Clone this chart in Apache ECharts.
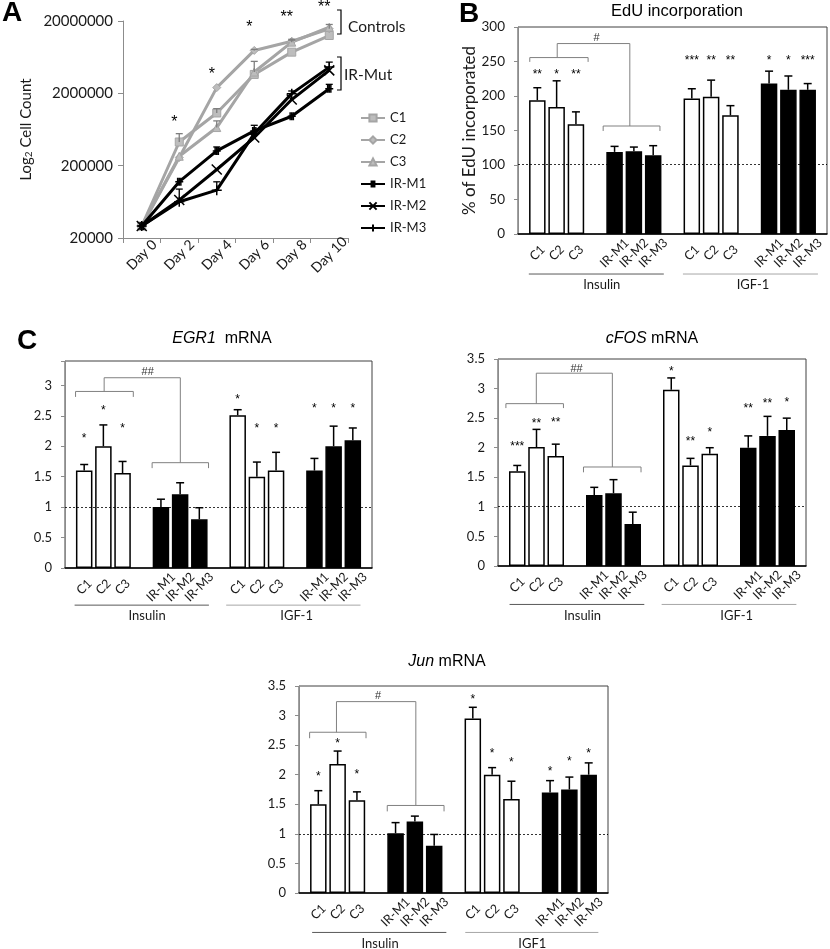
<!DOCTYPE html>
<html>
<head>
<meta charset="utf-8">
<script src="https://cdn.jsdelivr.net/npm/echarts@6.0.0/dist/echarts.min.js"></script>
<style>
html,body{margin:0;padding:0;background:#fff;}
#chart{width:830px;height:949px;}
</style>
</head>
<body>
<div id="chart"></div>
<script>
// ================= DATA =================
// Panel A: growth curves
const days = ['Day 0', 'Day 2', 'Day 4', 'Day 6', 'Day 8', 'Day 10'];
const lineNames = ['C1', 'C2', 'C3', 'IR-M1', 'IR-M2', 'IR-M3'];
const countC1 = [29300, 425000, 1070000, 3650000, 7420000, 12600000];
const countC2 = [29300, 259000, 2400000, 7840000, 10500000, 15600000];
const countC3 = [29300, 270000, 673000, 3940000, 10200000, 16400000];
const countM1 = [29300, 120000, 320000, 604000, 964000, 2320000];
const countM2 = [29300, 66900, 177000, 490000, 1640000, 4150000];
const countM3 = [29300, 63400, 91800, 556000, 1980000, 4610000];
const errC1 = [0, 129000, 158000, 0, 0, 0];
const errC2 = [0, 0, 0, 250000, 670000, 2300000];
const errC3 = [0, 0, 159000, 1590000, 670000, 0];
const errM1 = [0, 0, 43000, 119000, 0, 343000];
const errM2 = [0, 28000, 0, 0, 0, 0];
const errM3 = [0, 0, 27800, 0, 175000, 793000];
const countTicks = [20000, 200000, 2000000, 20000000];
const growthSig = ['', '*', '*', '*', '**', '**'];
const growthGroups = ['Controls', 'IR-Mut'];

// Panels B and C: bar charts
const cellLines = ['C1', 'C2', 'C3', 'IR-M1', 'IR-M2', 'IR-M3'];
const groupLabels = ['Insulin', 'IGF-1'];
const groupLabelsJun = ['Insulin', 'IGF1'];

const eduInsulin = [194, 184, 159, 119, 120, 114];
const eduInsulinErr = [18, 38, 18, 8, 6, 14];
const eduIgf = [196.5, 199, 172, 218, 209, 209];
const eduIgfErr = [14, 24, 14, 18, 20, 9];
const eduInsulinSig = ['**', '*', '**', '', '', ''];
const eduIgfSig = ['***', '**', '**', '*', '*', '***'];
const eduTest = '#';

const egr1Insulin = [1.6, 2.0, 1.56, 1.0, 1.21, 0.8];
const egr1InsulinErr = [0.1, 0.35, 0.19, 0.13, 0.19, 0.19];
const egr1Igf = [2.51, 1.5, 1.6, 1.6, 2.0, 2.1];
const egr1IgfErr = [0.09, 0.24, 0.3, 0.2, 0.33, 0.2];
const egr1InsulinSig = ['*', '*', '*', '', '', ''];
const egr1IgfSig = ['*', '*', '*', '*', '*', '*'];
const egr1Test = '##';

const cfosInsulin = [1.6, 2.01, 1.86, 1.2, 1.23, 0.71];
const cfosInsulinErr = [0.1, 0.3, 0.2, 0.13, 0.23, 0.2];
const cfosIgf = [2.98, 1.7, 1.9, 2.0, 2.2, 2.3];
const cfosIgfErr = [0.2, 0.12, 0.1, 0.2, 0.33, 0.2];
const cfosInsulinSig = ['***', '**', '**', '', '', ''];
const cfosIgfSig = ['*', '**', '*', '**', '**', '*'];
const cfosTest = '##';

const junInsulin = [1.5, 2.18, 1.57, 1.01, 1.21, 0.8];
const junInsulinErr = [0.23, 0.22, 0.14, 0.18, 0.09, 0.19];
const junIgf = [2.95, 2.0, 1.59, 1.7, 1.75, 2.0];
const junIgfErr = [0.19, 0.12, 0.3, 0.2, 0.21, 0.2];
const junInsulinSig = ['*', '*', '*', '', '', ''];
const junIgfSig = ['*', '*', '*', '*', '*', '*'];
const junTest = '#';

// ================= LAYOUT / STYLE =================
const FONT = 'Lato, "Open Sans", sans-serif';
const FONT_T = '"Liberation Sans", Arial, sans-serif';
const GRAY = '#a5a5a5';
const TXT = '#1a1a1a';
const AXGRAY = '#8c8c8c';

// annotation layout (data-space positions of brackets, asterisks, group rules)
const layoutA = { grid: {left: 123, top: 21, width: 225, height: 217}, sigY: [0, 1.651, 2.308, 2.961, 3.099, 3.237] };
const panels = [
  { vals: [eduInsulin, eduIgf], errs: [eduInsulinErr, eduIgfErr], sigs: [eduInsulinSig, eduIgfSig], test: eduTest, groups: groupLabels,
    grid: {left: 518, top: 27, width: 309, height: 207}, yMax: 300, yInt: 50, yFont: 13.5, ref: 101, yName: '% of EdU incorporated',
    b1: [-0.39, 2.63, 255.7, 249.4], riser: [1.03, 276, 4.79], b2: [3.41, 6.35, 156.5, 149.3], testPos: [3.07, 284],
    sigY: [[235, 235, 235], [255.7, 255.7, 255.7, 255.7, 255.7, 255.7]], lineY: -58, textY: -74,
    gx: [[-0.44, 6.55, 3.34], [7.54, 14.53, 11.17]] },
  { vals: [egr1Insulin, egr1Igf], errs: [egr1InsulinErr, egr1IgfErr], sigs: [egr1InsulinSig, egr1IgfSig], test: egr1Test, groups: groupLabels,
    grid: {left: 65, top: 361, width: 307, height: 207}, yMax: 3.4, yInt: 0.5, yFont: 13, ref: 1,
    b1: [-0.45, 2.56, 2.90, 2.81], riser: [1.04, 3.125, 5.01], b2: [3.54, 6.48, 1.73, 1.64], testPos: [3.31, 3.22],
    sigY: [[2.18, 2.64, 2.33], [2.81, 2.34, 2.34, 2.66, 2.66, 2.66]], lineY: -0.61, textY: -0.79,
    gx: [[-0.5, 6.5, 3.28], [7.4, 14.4, 11.07]] },
  { vals: [cfosInsulin, cfosIgf], errs: [cfosInsulinErr, cfosIgfErr], sigs: [cfosInsulinSig, cfosIgfSig], test: cfosTest, groups: groupLabels,
    grid: {left: 498, top: 359, width: 308, height: 207}, yMax: 3.5, yInt: 0.5, yFont: 13, ref: 1.01,
    b1: [-0.59, 2.40, 2.745, 2.67], riser: [0.99, 3.26, 4.94], b2: [3.44, 6.43, 1.674, 1.584], testPos: [3.08, 3.33],
    sigY: [[2.06, 2.45, 2.47], [3.34, 2.15, 2.31, 2.71, 2.79, 2.82]], lineY: -0.65, textY: -0.84,
    gx: [[-0.4, 6.6, 3.39], [7.5, 14.5, 11.4]] },
  { vals: [junInsulin, junIgf], errs: [junInsulinErr, junIgfErr], sigs: [junInsulinSig, junIgfSig], test: junTest, groups: groupLabelsJun,
    grid: {left: 299, top: 686, width: 309, height: 207}, yMax: 3.5, yInt: 0.5, yFont: 13, ref: 1,
    b1: [-0.45, 2.47, 2.718, 2.617], riser: [0.94, 3.236, 5.05], b2: [3.57, 6.51, 1.48, 1.38], testPos: [3.09, 3.33],
    sigY: [[2.01, 2.57, 2.05], [3.32, 2.40, 2.25, 2.11, 2.27, 2.40]], lineY: -0.667, textY: -0.86,
    gx: [[-0.32, 6.63, 3.2], [7.61, 14.5, 11.08]] }
];

// ================= BUILD =================
const grids = [], xAxes = [], yAxes = [], series = [];

// ---- Panel A ----
const base = countTicks[0];
const rel = v => Math.log10(v / base);
grids.push(Object.assign({outerBoundsMode: 'none', containLabel: false}, layoutA.grid));
xAxes.push({
  type: 'category', gridIndex: 0, data: days, boundaryGap: true,
  axisLine: {lineStyle: {color: AXGRAY, width: 1}},
  axisTick: {show: true, alignWithLabel: false, length: 5, lineStyle: {color: AXGRAY}},
  axisLabel: {rotate: 45, align: 'center', verticalAlign: 'middle', margin: 17, fontSize: 14, color: TXT, fontFamily: FONT, interval: 0}
});
yAxes.push({
  type: 'value', gridIndex: 0, min: 0, max: rel(countTicks[countTicks.length - 1]), interval: 1,
  axisLine: {show: true, onZero: false, lineStyle: {color: AXGRAY}},
  axisTick: {show: true, length: 5, lineStyle: {color: AXGRAY}},
  splitLine: {show: false},
  axisLabel: {formatter: v => String(countTicks[Math.round(v)] ?? ''), fontSize: 15, color: TXT, fontFamily: FONT, margin: 10},
  name: 'Log{s|2} Cell Count', nameLocation: 'middle', nameGap: 89,
  nameTextStyle: {fontSize: 15, color: TXT, fontFamily: FONT, rich: {s: {fontSize: 10, fontFamily: FONT, color: TXT, verticalAlign: 'bottom'}}}
});
const counts = [countC1, countC2, countC3, countM1, countM2, countM3];
const countErrs = [errC1, errC2, errC3, errM1, errM2, errM3];
const symbols = ['rect', 'diamond', 'triangle',
  'path://M0,5L10,5M3,1L3,9M5,1L5,9M7,1L7,9',
  'path://M0,0L10,10M10,0L0,10',
  'path://M0,5L10,5M5,0L5,10'];
const symSizes = [8, 8, 8, 8, 10, 10];
counts.forEach((arr, s) => {
  const ctrl = s < 3;
  series.push({
    name: lineNames[s], type: 'line', xAxisIndex: 0, yAxisIndex: 0,
    data: arr.map(rel), symbol: symbols[s], symbolSize: symSizes[s], showSymbol: true,
    lineStyle: {color: ctrl ? GRAY : '#000', width: 3},
    itemStyle: ctrl ? {color: '#bdbdbd', borderColor: GRAY, borderWidth: 1} : {color: '#000', borderColor: '#000', borderWidth: 1.5},
    z: ctrl ? 2 : 3, silent: true
  });
});
const aErr = [];
counts.forEach((arr, s) => arr.forEach((v, i) => {
  const e = countErrs[s][i];
  if (e > 0) aErr.push([i, rel(v), rel(v + e), s < 3 ? 0 : 1]);
}));
series.push({
  type: 'custom', xAxisIndex: 0, yAxisIndex: 0, silent: true, clip: false, z: 4, data: aErr,
  renderItem: (params, api) => {
    const p0 = api.coord([api.value(0), api.value(1)]);
    const p1 = api.coord([api.value(0), api.value(2)]);
    const col = api.value(3) ? '#000' : '#7f7f7f';
    return {type: 'group', children: [
      {type: 'line', shape: {x1: p0[0], y1: p0[1], x2: p1[0], y2: p1[1]}, style: {stroke: col, lineWidth: 1.3}},
      {type: 'line', shape: {x1: p1[0] - 3.5, y1: p1[1], x2: p1[0] + 3.5, y2: p1[1]}, style: {stroke: col, lineWidth: 1.3}}
    ]};
  }
});
series.push({
  type: 'custom', xAxisIndex: 0, yAxisIndex: 0, silent: true, clip: false, z: 5,
  data: growthSig.map((t, i) => [i, layoutA.sigY[i]]).filter((d, i) => growthSig[i] !== ''),
  renderItem: (params, api) => {
    const i = api.value(0);
    const p = api.coord([i, api.value(1)]);
    return {type: 'text', x: p[0] - 5, y: p[1] + 4,
      style: {text: growthSig[i], fontSize: 16, fontFamily: FONT_T, fill: '#000', align: 'center', verticalAlign: 'middle'}};
  }
});

// ---- Bar panels ----
panels.forEach((P, pi) => {
  const gi = pi + 1;
  grids.push(Object.assign({outerBoundsMode: 'none', containLabel: false, show: true, borderColor: '#404040', borderWidth: 1, backgroundColor: 'transparent'}, P.grid));
  const names = {};
  const bars = [], errs = [], sigs = [];
  const posOf = (g, k) => g * 8 + k + (k >= 3 ? 1 : 0);
  P.vals.forEach((arr, g) => arr.forEach((v, k) => {
    const x = posOf(g, k);
    names[x] = cellLines[k];
    bars.push({value: [x, v], itemStyle: {color: k >= 3 ? '#000' : '#fff'}});
    errs.push([x, v, v + P.errs[g][k]]);
    if (P.sigs[g][k]) sigs.push({x: x, y: P.sigY[g][k], t: P.sigs[g][k]});
  }));
  xAxes.push({
    type: 'value', gridIndex: gi, min: -1, max: 15, interval: 1,
    axisLine: {show: true, onZero: false, lineStyle: {color: '#000', width: 1.5}},
    axisTick: {show: false}, splitLine: {show: false},
    axisLabel: {formatter: v => names[Math.round(v)] || '', rotate: 45, align: 'center', verticalAlign: 'middle',
      margin: 19, fontSize: 12.5, color: TXT, fontFamily: FONT, showMinLabel: true, showMaxLabel: true}
  });
  const yAx = {
    type: 'value', gridIndex: gi, min: 0, max: P.yMax, interval: P.yInt,
    axisLine: {show: true, onZero: false, lineStyle: {color: AXGRAY}},
    axisTick: {show: true, length: 4, lineStyle: {color: AXGRAY}},
    splitLine: {show: false},
    axisLabel: {
      formatter: v => { const r = v / P.yInt; return Math.abs(r - Math.round(r)) < 1e-6 ? String(+v.toFixed(2)) : ''; },
      fontSize: P.yFont, color: TXT, fontFamily: FONT, margin: 13, showMaxLabel: true
    }
  };
  if (P.yName) {
    yAx.name = P.yName; yAx.nameLocation = 'middle'; yAx.nameGap = 37;
    yAx.nameTextStyle = {fontSize: 17, color: TXT, fontFamily: FONT};
  }
  yAxes.push(yAx);
  series.push({
    type: 'bar', xAxisIndex: gi, yAxisIndex: gi, barWidth: 16.5, data: bars, silent: true, z: 2,
    itemStyle: {borderColor: '#000', borderWidth: 1.5},
    markLine: {silent: true, symbol: 'none', label: {show: false}, animation: false,
      lineStyle: {type: [2, 2], color: '#000', width: 0.8}, data: [{yAxis: P.ref}]}
  });
  series.push({
    type: 'custom', xAxisIndex: gi, yAxisIndex: gi, silent: true, clip: false, z: 3, data: errs,
    renderItem: (params, api) => {
      const p0 = api.coord([api.value(0), api.value(1)]);
      const p1 = api.coord([api.value(0), api.value(2)]);
      return {type: 'group', children: [
        {type: 'line', shape: {x1: p0[0], y1: p0[1], x2: p1[0], y2: p1[1]}, style: {stroke: '#000', lineWidth: 1.5}},
        {type: 'line', shape: {x1: p1[0] - 4, y1: p1[1], x2: p1[0] + 4, y2: p1[1]}, style: {stroke: '#000', lineWidth: 1.5}}
      ]};
    }
  });
  series.push({
    type: 'custom', xAxisIndex: gi, yAxisIndex: gi, silent: true, clip: false, z: 4, data: [[0, 0]],
    renderItem: (params, api) => {
      const c = (x, y) => api.coord([x, y]);
      const ch = [];
      const poly = (pts, col) => ch.push({type: 'polyline', shape: {points: pts.map(p => c(p[0], p[1]))},
        style: {stroke: col, lineWidth: 1, fill: null}});
      const txt = (x, y, t, size, col, dy, font) => { const p = c(x, y);
        ch.push({type: 'text', x: p[0], y: p[1] + (dy || 0),
          style: {text: t, fontSize: size, fontFamily: font || FONT, fill: col, align: 'center', verticalAlign: 'middle'}}); };
      const [a0, a1, ay, ad] = P.b1;
      const [c0, c1, cy, cd] = P.b2;
      const [rx, ry, rx2] = P.riser;
      poly([[a0, ad], [a0, ay], [a1, ay], [a1, ad]], '#808080');
      poly([[rx, ay], [rx, ry], [rx2, ry], [rx2, cy]], '#808080');
      poly([[c0, cd], [c0, cy], [c1, cy], [c1, cd]], '#808080');
      txt(P.testPos[0], P.testPos[1], P.test, 11, '#333', 0, FONT_T);
      sigs.forEach(s => txt(s.x, s.y, s.t, 12, '#000', 3, FONT_T));
      P.gx.forEach((g, k) => {
        poly([[g[0], P.lineY], [g[1], P.lineY]], k === 0 ? '#595959' : '#a6a6a6');
        txt(g[2], P.textY, P.groups[k], 13, TXT, 0, FONT);
      });
      return {type: 'group', children: ch};
    }
  });
});

// ---- Text decorations ----
const T = (x, y, text, size, opts) => Object.assign({type: 'text', x: x, y: y, silent: true,
  style: Object.assign({text: text, fontSize: size, fontFamily: FONT_T, fill: '#000', align: 'center', verticalAlign: 'middle'}, opts || {})});
const italicRich = size => ({i: {fontStyle: 'italic', fontSize: size, fontFamily: FONT_T, fill: '#000'},
                             n: {fontSize: size, fontFamily: FONT_T, fill: '#000'}});
const graphic = [
  T(12, 13, 'A', 28, {fontWeight: 'bold'}),
  T(469, 14, 'B', 28, {fontWeight: 'bold'}),
  T(27, 341, 'C', 28, {fontWeight: 'bold'}),
  T(677, 11, 'EdU incorporation', 16.5),
  T(222, 339, '{i|EGR1}{n|  mRNA}', 16, {rich: italicRich(16)}),
  T(652, 339, '{i|cFOS}{n| mRNA}', 16, {rich: italicRich(16)}),
  T(447, 662, '{i|Jun}{n| mRNA}', 16, {rich: italicRich(16)}),
  T(348, 27, growthGroups[0], 15.5, {fontFamily: FONT, align: 'left', fill: TXT}),
  T(344, 75, growthGroups[1], 15.5, {fontFamily: FONT, align: 'left', fill: TXT}),
  {type: 'polyline', silent: true, shape: {points: [[337, 10], [341, 10], [341, 34], [337, 34]]}, style: {stroke: '#000', lineWidth: 1.2, fill: null}},
  {type: 'polyline', silent: true, shape: {points: [[337, 57], [341, 57], [341, 90], [337, 90]]}, style: {stroke: '#000', lineWidth: 1.2, fill: null}}
];

const option = {
  animation: false,
  backgroundColor: '#fff',
  grid: grids, xAxis: xAxes, yAxis: yAxes, series: series,
  legend: {
    data: lineNames, orient: 'vertical', left: 355, top: 105, itemWidth: 24, itemHeight: 9, itemGap: 6,
    selectedMode: false, textStyle: {fontSize: 13, lineHeight: 16, color: TXT, fontFamily: FONT}
  },
  graphic: graphic
};
const chart = echarts.init(document.getElementById('chart'), null, {renderer: 'canvas', width: 830, height: 949});
chart.setOption(option);
</script>
</body>
</html>
